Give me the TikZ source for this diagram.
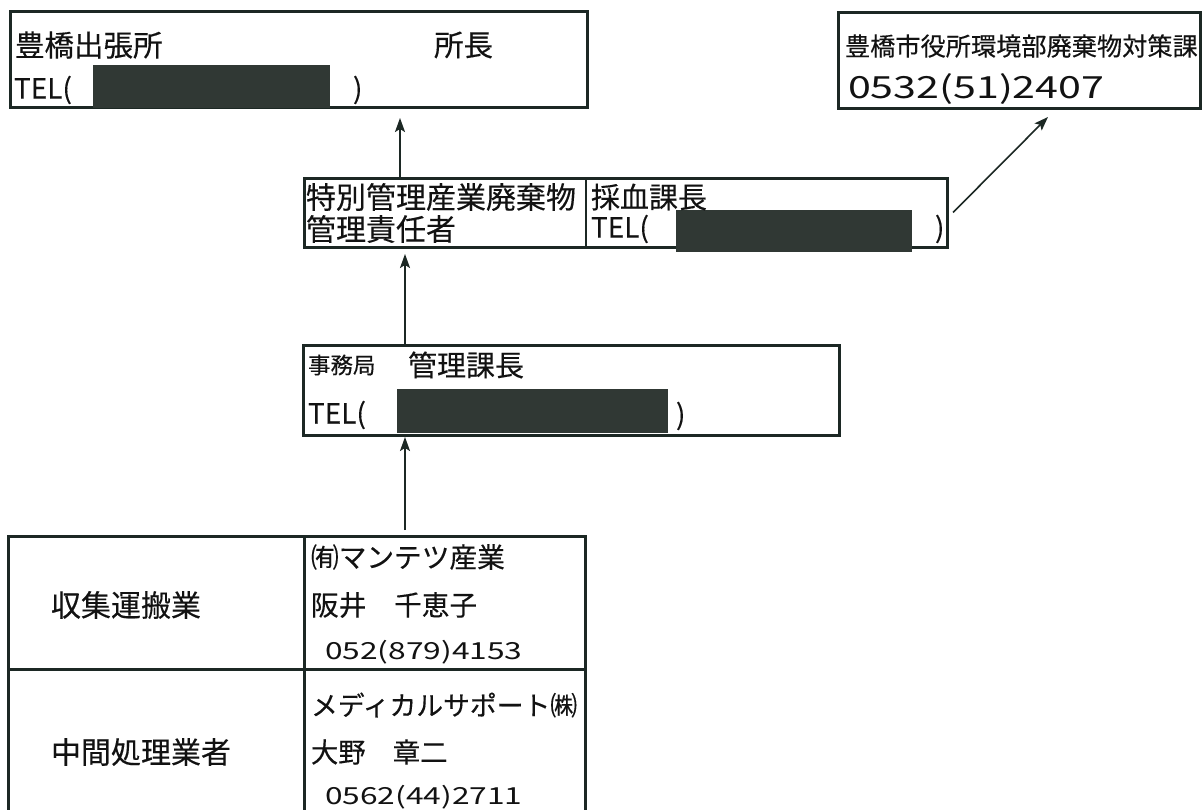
\documentclass[tikz,border=0pt]{standalone}
\usepackage{fontspec}
\setmainfont{Noto Sans CJK JP}[FakeBold=0.3]
\newfontfamily\widenum{Noto Sans CJK JP}[FakeStretch=1.35]
\usetikzlibrary{arrows.meta,calc}
\definecolor{ink}{RGB}{28,40,36}
\definecolor{txtc}{RGB}{18,18,18}
\definecolor{redact}{RGB}{48,56,52}
\newcommand\myfs[1]{\fontsize{#1}{#1}\selectfont}
\tikzset{
  boxframe/.style={draw=ink, line width=3pt, inner sep=0pt, outer sep=0pt, anchor=north west},
  lbl/.style={anchor=west, inner sep=0pt, outer sep=0pt, text=txtc},
  blot/.style={fill=redact, draw=none, inner sep=0pt, outer sep=0pt, anchor=north west},
  arr/.style={draw=ink, line width=1.6pt, -{Stealth[length=14pt,width=10pt,inset=3pt]}},
  sepline/.style={draw=ink, line width=3pt},
  thinsep/.style={draw=ink, line width=1.5pt},
}
\begin{document}
\begin{tikzpicture}[x=1pt,y=-1pt]
\useasboundingbox[fill=white] (0,0) rectangle (1204,810);
\clip (0,0) rectangle (1204,810);

% ---- boxes
\node[boxframe, minimum width=577pt, minimum height=96pt] (b1) at (10,12) {};
\node[boxframe, minimum width=362pt, minimum height=96pt] (b2) at (838,13) {};
\node[boxframe, minimum width=643pt, minimum height=69pt] (b3) at (304,179) {};
\node[boxframe, minimum width=536pt, minimum height=90pt] (b4) at (303,345) {};
\node[boxframe, minimum width=577pt, minimum height=300pt] (tbl) at (8,536) {};

% ---- dividers
\coordinate (divx) at (586,0);
\draw[thinsep] (b3.north -| divx) -- (b3.south -| divx);
\coordinate (colx) at (304,0);
\coordinate (rowy) at (0,669);
\draw[sepline] (tbl.north -| colx) -- (tbl.south -| colx);
\draw[sepline] (tbl.west |- rowy) -- (tbl.east |- rowy);

% ---- redactions
\node[blot, minimum width=237pt, minimum height=43pt] (r1) at (93,65) {};
\node[blot, minimum width=236pt, minimum height=42pt] (r3) at (676,210) {};
\node[blot, minimum width=271pt, minimum height=44pt] (r4) at (397,389) {};

% ---- box 1 texts
\node[lbl, font=\myfs{29.5}] (t1a) at (15,45) {豊橋出張所};
\node[lbl, font=\myfs{29.5}] (t1b) at (434,45) {所長};
\node[lbl, font=\myfs{28}] (t1c) at (14,90) {TEL(};
\node[lbl, font=\myfs{28}] (t1d) at (353,90) {)};

% ---- box 2 texts
\node[lbl, font=\myfs{25.2}] (t2a) at (845,46) {豊橋市役所環境部廃棄物対策課};
\node[lbl, font=\widenum\myfs{30.5}] (t2b) at (848,89) {0532(51)2407};

% ---- box 3 texts
\node[lbl, font=\myfs{30}] (t3a) at (306,197) {特別管理産業廃棄物};
\node[lbl, font=\myfs{30}] (t3b) at (306,229) {管理責任者};
\node[lbl, font=\myfs{29}] (t3c) at (591,197) {採血課長};
\node[lbl, font=\myfs{28}] (t3d) at (591,229) {TEL(};
\node[lbl, font=\myfs{28}] (t3e) at (935,229) {)};

% ---- box 4 texts
\node[lbl, font=\myfs{22.5}] (t4a) at (308,365) {事務局};
\node[lbl, font=\myfs{29}] (t4b) at (408,365) {管理課長};
\node[lbl, font=\myfs{28}] (t4c) at (308,415) {TEL(};
\node[lbl, font=\myfs{28}] (t4d) at (676,416) {)};

% ---- table texts
\node[lbl, font=\myfs{30}] (c1) at (51,605) {収集運搬業};
\node[lbl, font=\myfs{30}] (c2) at (51,752) {中間処理業者};
\node[lbl, font=\myfs{27.7}] (d1) at (311,557) {㈲マンテツ産業};
\node[lbl, font=\myfs{27.7}] (d2) at (311,605) {阪井　千恵子};
\node[lbl, font=\widenum\myfs{23.5}] (d3) at (325,652) {052(879)4153};
\node[lbl, font=\myfs{26.8}] (d4) at (311,705) {メディカルサポート㈱};
\node[lbl, font=\myfs{27.3}] (d5) at (311,752) {大野　章二};
\node[lbl, font=\widenum\myfs{23.5}] (d6) at (325,797) {0562(44)2711};

% ---- connectors
\coordinate (ax1) at (400,0);
\coordinate (ax2) at (405,0);
\coordinate (ax4) at (1048,0);
\draw[arr] (b3.north -| ax1) -- ($(b1.south -| ax1)+(0,10)$);
\draw[arr] (b4.north -| ax2) -- ($(b3.south -| ax2)+(0,6)$);
\draw[arr] ($(tbl.north -| ax2)+(0,-6)$) -- ($(b4.south -| ax2)+(0,2)$);
\draw[arr] ($(b3.east)+(6,-1)$) -- ($(b2.south -| ax4)+(0,8)$);
\end{tikzpicture}
\end{document}
